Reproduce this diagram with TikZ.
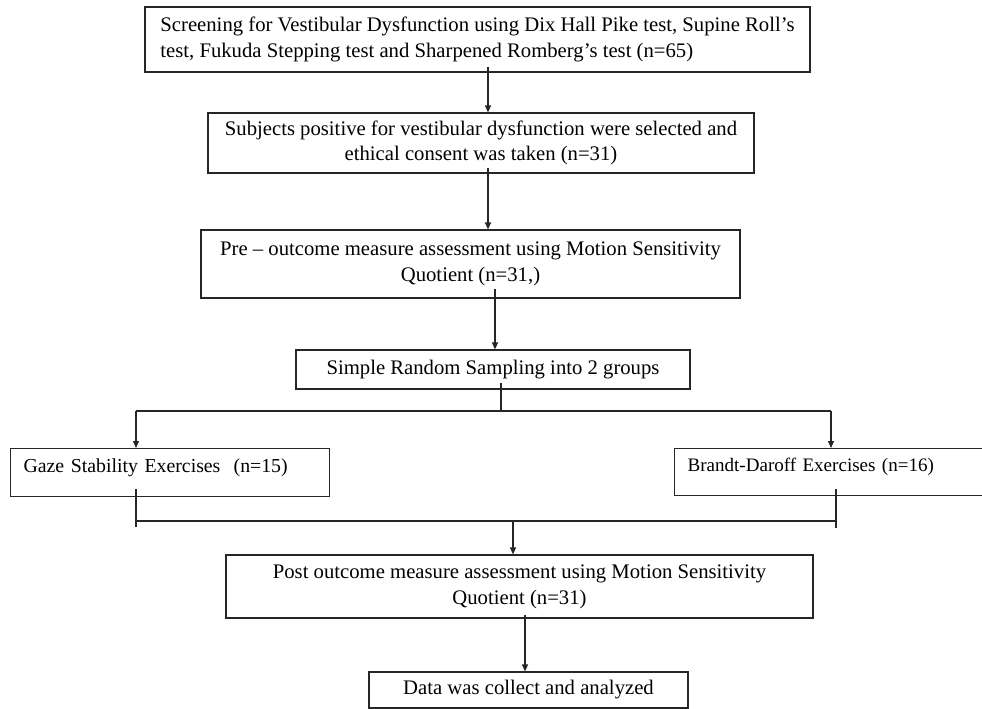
\documentclass[tikz,border=0pt]{standalone}
\usepackage{fontspec}
\setmainfont{Liberation Serif}
\usetikzlibrary{arrows.meta}
\begin{document}
\begin{tikzpicture}[x=1pt,y=-1pt,
  box/.style={draw=black!85, line width=1.2pt, inner sep=0pt, font=\fontsize{20.7}{25.8}\selectfont},
  conn/.style={draw=black!85, line width=1.2pt},
  arr/.style={conn, -{Triangle[length=7pt,width=6pt]}}
]
\useasboundingbox (0,0) rectangle (982,709);
\fill[white] (0,0) rectangle (982,709);
\clip (0,0) rectangle (982,709);

\node[box, minimum width=665, minimum height=65, align=left] (b1) at (477.5,39.5)
  {Screening for Vestibular Dysfunction using Dix Hall Pike test, Supine Roll’s\\test, Fukuda Stepping test and Sharpened Romberg’s test (n=65)};
\node[box, minimum width=546, minimum height=60, align=center] (b2) at (481,143)
  {Subjects positive for vestibular dysfunction were selected and\\ethical consent was taken (n=31)};
\node[box, minimum width=539, minimum height=68, align=center] (b3) at (470.5,264)
  {Pre – outcome measure assessment using Motion Sensitivity\\Quotient (n=31,)};
\node[box, minimum width=394, minimum height=39] (b4) at (493,369.5)
  {Simple Random Sampling into 2 groups};
\node[box, anchor=north west, inner xsep=13pt, text width=293pt, align=left,
  text height=24pt, text depth=24pt, font=\fontsize{19.8}{24}\selectfont] (b5) at (10,448)
  {Gaze Stability Exercises\ \ (n=15)};
\node[box, anchor=north west, inner xsep=13pt, text width=320pt, align=left,
  text height=23pt, text depth=24pt, font=\fontsize{19.05}{24}\selectfont] (b6) at (674,448)
  {Brandt-Daroff Exercises (n=16)};
\node[box, minimum width=587, minimum height=63, align=center] (b7) at (519.5,586.5)
  {Post outcome measure assessment using Motion Sensitivity\\Quotient (n=31)};
\node[box, minimum width=319, minimum height=36] (b8) at (528.5,690)
  {Data was collect and analyzed};

% connector points
\coordinate (s1) at (488,67);
\coordinate (s2) at (488,168);
\coordinate (s3) at (495,289);
\coordinate (s4) at (501,383);
\coordinate (sp) at (501,411);
\coordinate (spL) at (136,411);
\coordinate (spR) at (831,411);
\coordinate (t5) at (136,489);
\coordinate (e5) at (136,527);
\coordinate (t6) at (836,489);
\coordinate (e6) at (836,528);
\coordinate (jL) at (136,521);
\coordinate (jR) at (836,521);
\coordinate (jM) at (513,521);
\coordinate (s7) at (525,615);

\draw[arr] (s1) -- (s1 |- b2.north);
\draw[arr] (s2) -- (s2 |- b3.north);
\draw[arr] (s3) -- (s3 |- b4.north);
\draw[conn] (s4) -- (sp);
\draw[conn] (spL) -- (spR);
\draw[arr] (spL) -- (spL |- b5.north);
\draw[arr] (spR) -- (spR |- b6.north);
\draw[conn] (t5) -- (e5);
\draw[conn] (t6) -- (e6);
\draw[conn] (jL) -- (jR);
\draw[arr] (jM) -- (jM |- b7.north);
\draw[arr] (s7) -- (s7 |- b8.north);
\end{tikzpicture}
\end{document}
